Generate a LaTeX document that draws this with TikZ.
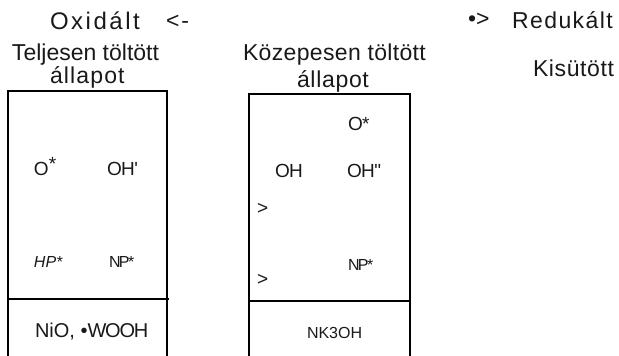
\documentclass[tikz,border=0pt]{standalone}
\usepackage{fontspec}
\setmainfont{Liberation Sans}
\newfontfamily\plainsans[Ligatures=TeXOff]{Liberation Sans}
\newcommand\lsp[2]{{\addfontfeature{LetterSpace=#1}#2}}
\begin{document}
\begin{tikzpicture}[x=1pt,y=-1pt,
  txt/.style={anchor=base west,inner sep=0pt,outer sep=0pt,text=black!90},
  hdr/.style={txt,font=\fontsize{23}{27}\selectfont},
  inb/.style={txt,font=\fontsize{19}{22}\selectfont},
  boxline/.style={line width=1.2pt,draw=black}]
\useasboundingbox (0,0) rectangle (619,356);
% headers
\node[txt,font=\fontsize{24}{28}\selectfont] (ox) at (50,30) {\lsp{10.5}{Oxidált}};
\node[hdr] (la)  at (166,28) {\lsp{8}{<-}};
\node[hdr] (t1)  at (12,60)  {Teljesen töltött};
\node[hdr] (a1)  at (50,83)  {\lsp{5}{állapot}};
\node[hdr] (t2)  at (243,60) {\lsp{1.5}{Közepesen töltött}};
\node[hdr] (a2)  at (297,87) {\lsp{3}{állapot}};
\node[hdr] (ra)  at (468,27) {•>};
\node[hdr] (red) at (512,28) {\lsp{6.3}{Redukált}};
\node[hdr] (kis) at (533,76) {\lsp{2.7}{Kisütött}};
% box 1
\draw[boxline] (8,356) -- (8,91) -- (167,91) -- (167,356);
\draw[boxline] (8,299) -- (169,299);
\node[inb] (b1o)  at (34,175)  {O\raisebox{5pt}{*}};
\node[inb] (b1oh) at (107,175) {\plainsans\lsp{-3}{OH'}};
\node[txt,font=\fontsize{16}{19}\selectfont\itshape] (b1hp) at (34,267) {HP*};
\node[txt,font=\fontsize{16}{19}\selectfont] (b1np) at (109,267) {\lsp{-10}{NP*}};
\node[txt,font=\fontsize{20}{23}\selectfont] (b1ni) at (35,337) {NiO, •\lsp{-6}{WOOH}};
% box 2
\draw[boxline] (249,356) -- (249,94) -- (410,94) -- (410,356);
\draw[boxline] (249,301) -- (410,301);
\node[inb] (b2o)  at (348,130) {\lsp{-3}{O*}};
\node[inb] (b2oh) at (275,177) {\lsp{-4}{OH}};
\node[inb] (b2oh2) at (347,177) {\plainsans\lsp{-3}{OH"}};
\node[inb] (g1) at (257,214) {>};
\node[txt,font=\fontsize{16}{19}\selectfont] (b2np) at (348,270) {\lsp{-10}{NP*}};
\node[inb] (g2) at (257,285) {>};
\node[txt,font=\fontsize{16}{19}\selectfont] (b2nk) at (307,338) {NK3OH};
\end{tikzpicture}
\end{document}
